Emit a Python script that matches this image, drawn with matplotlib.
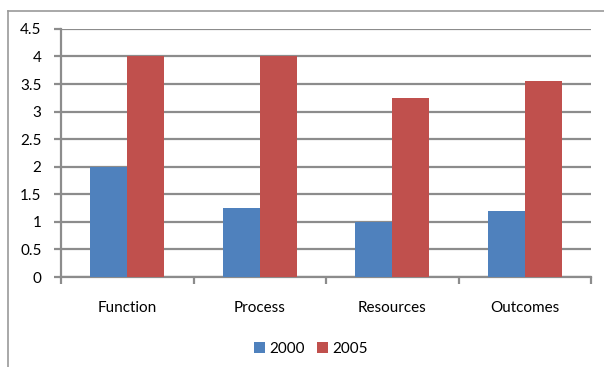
import numpy as np
import matplotlib.pyplot as plt
from matplotlib.lines import Line2D

# Datos del gráfico
categorias = ['Function', 'Process', 'Resources', 'Outcomes']
valores_2000 = [2.0, 1.25, 1.0, 1.2]
valores_2005 = [4.0, 4.0, 3.25, 3.55]
series = ['2000', '2005']
colores = ['#4F81BD', '#C0504D']

plt.rcParams['font.family'] = ['Lato', 'DejaVu Sans']

fig = plt.figure(figsize=(6.04, 3.67), dpi=100)
ax = fig.add_axes([0.101, 0.2452, 0.8775, 0.676])

x = np.arange(len(categorias))
ancho = 0.28
ax.bar(x - ancho / 2, valores_2000, ancho, color=colores[0], label=series[0], zorder=3)
ax.bar(x + ancho / 2, valores_2005, ancho, color=colores[1], label=series[1], zorder=3)

# Ejes y cuadrícula
ax.set_xlim(-0.5, len(categorias) - 0.5)
ax.set_ylim(0, 4.5)
ax.set_yticks(np.arange(0, 4.51, 0.5))
ax.set_yticklabels(['0', '0.5', '1', '1.5', '2', '2.5', '3', '3.5', '4', '4.5'])
ax.yaxis.grid(True, color='#8c8c8c', linewidth=1.6, zorder=0)
ax.set_axisbelow(True)

for lado in ['top', 'right']:
    ax.spines[lado].set_visible(False)
for lado in ['left', 'bottom']:
    ax.spines[lado].set_color('#8c8c8c')
    ax.spines[lado].set_linewidth(1.6)

ax.tick_params(axis='y', direction='out', length=5, width=1.6, color='#8c8c8c',
               labelsize=11, pad=9)
ax.set_xticks(x)
ax.set_xticklabels(categorias, fontsize=11)
ax.tick_params(axis='x', length=0, pad=17)
# Marcas entre categorías en el eje x
ax.set_xticks(np.arange(-0.5, len(categorias)), minor=True)
ax.tick_params(axis='x', which='minor', direction='out', length=5, width=1.6, color='#8c8c8c')

# Leyenda
fig.legend(loc='center', bbox_to_anchor=(0.515, 0.049), ncol=2, frameon=False,
           fontsize=11, handlelength=0.7, handleheight=0.7, handletextpad=0.3,
           columnspacing=0.8)

# Marco exterior del gráfico
fig.add_artist(Line2D([8 / 604, 1.0], [1 - 11 / 367, 1 - 11 / 367],
                      transform=fig.transFigure, color='#9a9a9a', linewidth=1.2))
fig.add_artist(Line2D([8 / 604, 8 / 604], [0.0, 1 - 11 / 367],
                      transform=fig.transFigure, color='#9a9a9a', linewidth=1.2))

fig.savefig('out.png', dpi=100)
